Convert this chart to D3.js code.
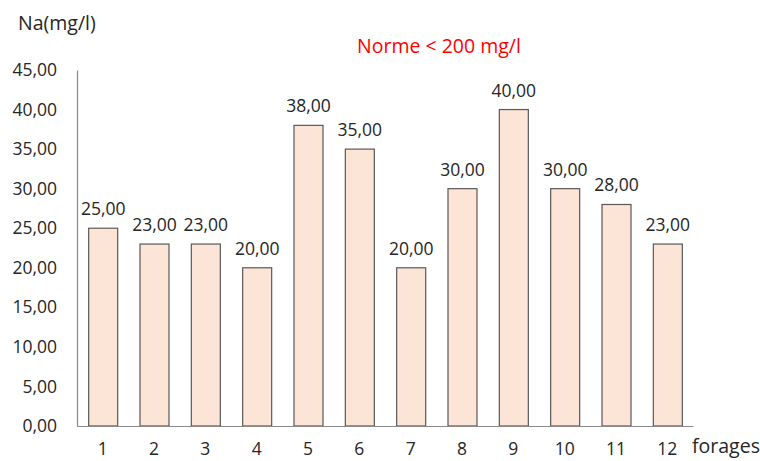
<!DOCTYPE html>
<html>
<head>
<meta charset="utf-8">
<script src="https://cdn.jsdelivr.net/npm/d3@7"></script>
<style>
  html, body { margin: 0; padding: 0; background: #fff; }
  svg text { font-family: "Open Sans", sans-serif; fill: #262626; }
</style>
</head>
<body>
<svg id="chart" width="760" height="461"></svg>
<script>
// Sodium content per borehole (mg/l)
const forages = ["1", "2", "3", "4", "5", "6", "7", "8", "9", "10", "11", "12"];
const sodium = [25, 23, 23, 20, 38, 35, 20, 30, 40, 30, 28, 23];
const yTicks = [0, 5, 10, 15, 20, 25, 30, 35, 40, 45];

const svg = d3.select("#chart");
const plot = { left: 77, right: 693, top: 70, bottom: 426 };
const fs = 17.5;

const fmt = v => d3.format(".2f")(v).replace(".", ",");

const x = d3.scaleBand().domain(forages).range([plot.left, plot.right]).paddingInner(0.435).paddingOuter(0.2175);
const y = d3.scaleLinear().domain([0, 45]).range([plot.bottom, plot.top]);

// Bars
svg.append("g").selectAll("rect")
  .data(forages)
  .join("rect")
  .attr("x", d => x(d) + 0.5)
  .attr("y", (d, i) => y(sodium[i]))
  .attr("width", x.bandwidth())
  .attr("height", (d, i) => plot.bottom - y(sodium[i]))
  .attr("fill", "#fce4d6")
  .attr("stroke", "#595959")
  .attr("stroke-width", 1.2);

// Value labels
svg.append("g").selectAll("text")
  .data(forages)
  .join("text")
  .attr("x", d => x(d) + x.bandwidth() / 2 + 0.5)
  .attr("y", (d, i) => y(sodium[i]) - 13)
  .attr("text-anchor", "middle")
  .attr("font-size", fs)
  .text((d, i) => fmt(sodium[i]));

// Y axis
const yAxis = svg.append("g")
  .attr("transform", `translate(${plot.left},0)`)
  .call(d3.axisLeft(y).tickValues(yTicks).tickSize(0).tickPadding(20).tickFormat(fmt));
yAxis.select(".domain").attr("stroke", "#898989").attr("stroke-width", 1.2);
yAxis.selectAll("text").attr("font-size", fs).attr("font-family", null).attr("fill", "#262626");

// X axis
const xAxis = svg.append("g")
  .attr("transform", `translate(0,${plot.bottom})`)
  .call(d3.axisBottom(x).tickSize(0).tickPadding(17));
xAxis.select(".domain").attr("stroke", "#898989").attr("stroke-width", 1.2);
xAxis.selectAll("text").attr("font-size", fs).attr("font-family", null).attr("fill", "#262626");

// Axis titles and note
svg.append("text").attr("x", 18).attr("y", 30).attr("font-size", 19.5).text("Na(mg/l)");
svg.append("text").attr("x", 692).attr("y", 453).attr("font-size", 19.5).text("forages");
svg.append("text").attr("x", 357).attr("y", 53).attr("font-size", 19.5)
  .style("fill", "#ff0000").text("Norme < 200 mg/l");
</script>
</body>
</html>
